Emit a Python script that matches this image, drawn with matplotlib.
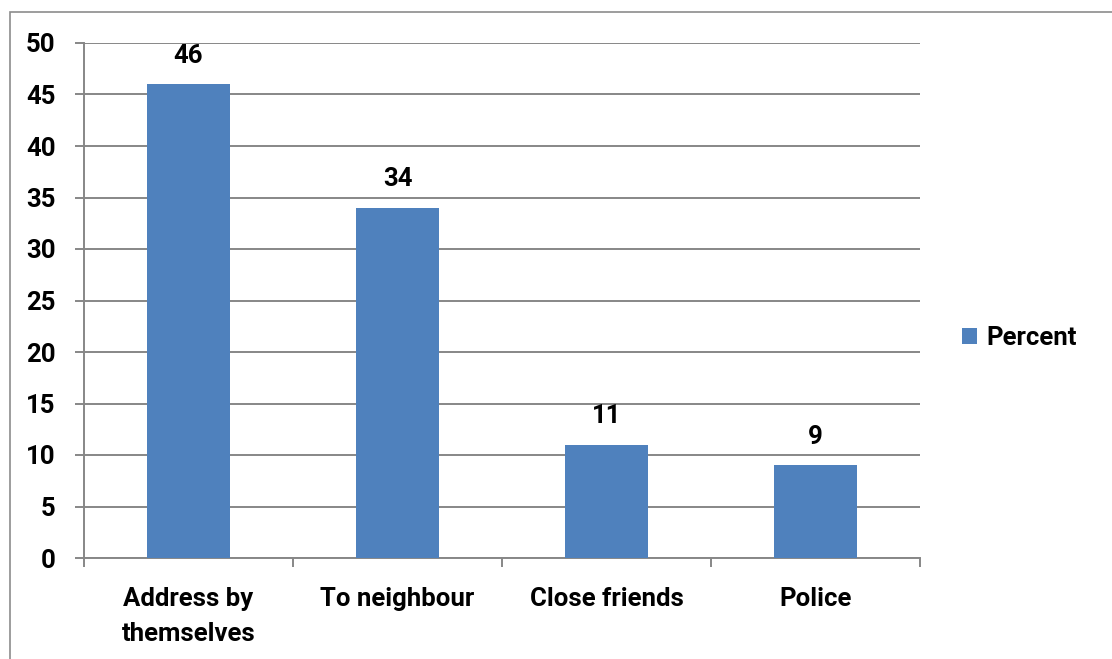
import matplotlib.pyplot as plt
from matplotlib.patches import Rectangle

categories = ['Address by\nthemselves', 'To neighbour', 'Close friends', 'Police']
percent = [46, 34, 11, 9]
y_ticks = [0, 5, 10, 15, 20, 25, 30, 35, 40, 45, 50]

bar_color = '#4F81BD'
grid_color = '#878787'
fs = 18.5

plt.rcParams['font.family'] = ['Roboto', 'DejaVu Sans']
plt.rcParams['font.weight'] = 'bold'

fig = plt.figure(figsize=(11.12, 6.59), dpi=100)
fig.patches.append(Rectangle((10 / 1112, -0.1), 1.2, 1.1 - 12 / 659,
                             transform=fig.transFigure, fill=False,
                             edgecolor='#8c8c8c', linewidth=1.2))

ax = fig.add_axes([84 / 1112, 1 - 558 / 659, (920 - 84) / 1112, (558 - 43) / 659])

x = range(len(categories))
bars = ax.bar(x, percent, width=0.4, color=bar_color, label='Percent', zorder=3)

ax.set_ylim(0, 50)
ax.set_xlim(-0.5, len(categories) - 0.5)
ax.set_yticks(y_ticks)
ax.set_yticklabels([str(t) for t in y_ticks], fontweight='bold')
ax.yaxis.grid(True, color=grid_color, linewidth=1.4, zorder=0)
ax.set_axisbelow(True)

for s in ['top', 'right']:
    ax.spines[s].set_visible(False)
for s in ['left', 'bottom']:
    ax.spines[s].set_color(grid_color)
    ax.spines[s].set_linewidth(1.4)

# category ticks sit on boundaries, labels in the middle
ax.set_xticks([i - 0.5 for i in range(len(categories) + 1)])
ax.set_xticklabels([])
ax.set_xticks(list(x), minor=True)
ax.set_xticklabels(categories, minor=True, fontsize=fs, fontweight='bold', linespacing=1.55)
ax.tick_params(axis='x', which='major', length=6.5, width=1.4, color=grid_color, direction='out')
ax.tick_params(axis='x', which='minor', length=0, pad=21)
ax.tick_params(axis='y', length=6.5, width=1.4, color=grid_color, pad=14, labelsize=fs)

for b, v in zip(bars, percent):
    ax.annotate(f'{v}', (b.get_x() + b.get_width() / 2, v), xytext=(0, 12),
                textcoords='offset points', ha='center', va='bottom',
                fontsize=fs, fontweight='bold')

ax.legend(loc='center left', bbox_to_anchor=(962 / 1112, 1 - 338 / 659),
          bbox_transform=fig.transFigure, frameon=False,
          prop={'size': fs, 'weight': 'bold'}, borderpad=0, borderaxespad=0,
          handlelength=0.6, handleheight=0.6, handletextpad=0.35)

fig.savefig('out.png', dpi=100)
